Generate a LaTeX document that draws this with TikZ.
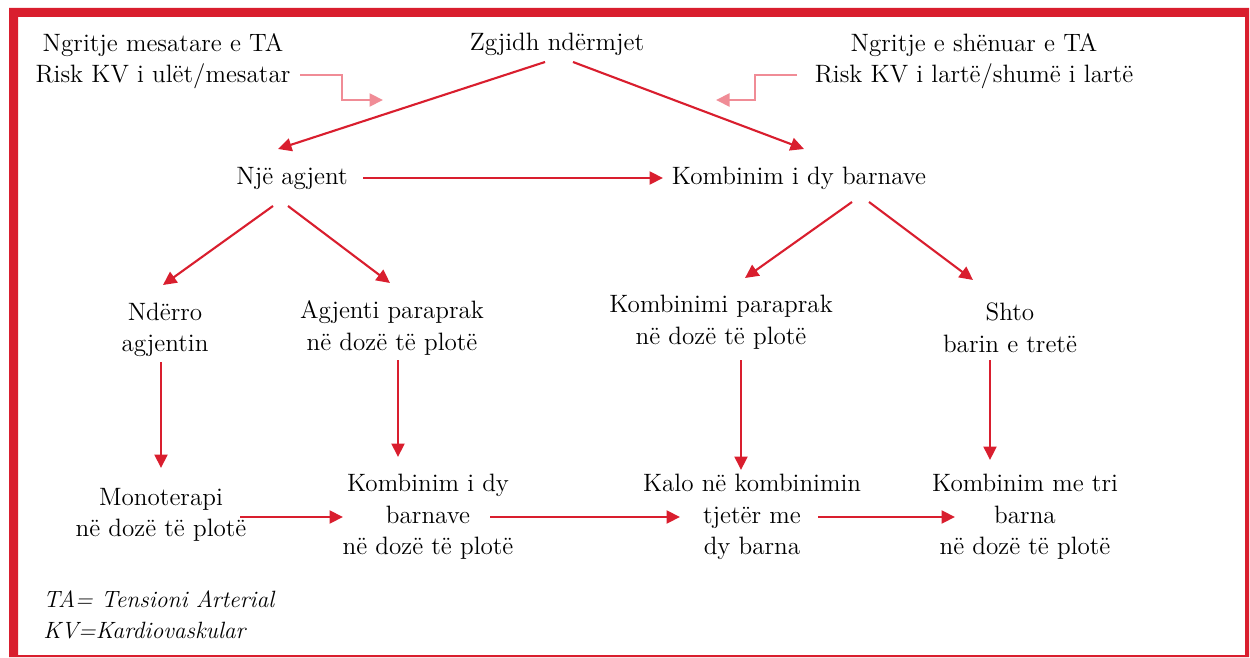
\documentclass[tikz,border=0pt]{standalone}
\usepackage{fontspec}
\usetikzlibrary{arrows.meta,calc}
\definecolor{mainRed}{RGB}{217,30,46}
\definecolor{hintRed}{RGB}{240,140,150}
\begin{document}
\begin{tikzpicture}[x=0.02cm, y=-0.02cm,
    flowTxtS/.style={align=center,inner sep=0pt,font=\fontsize{14.3}{18}\selectfont},
    flowArrS/.style={-{Triangle[length=0.27cm,width=0.26cm]},mainRed,line width=1.2pt},
    hintArrS/.style={-{Triangle[length=0.27cm,width=0.26cm]},hintRed,line width=1.2pt},
]
\useasboundingbox (0,0) rectangle (1250,658);
% Frame
\fill[mainRed, even odd rule] (9,8) rectangle (1249,657) (18,17) rectangle (1245,655);
% Top row
\node[flowTxtS] (zgj) at (557,44) {Zgjidh ndërmjet};
\node[flowTxtS] (lowR) at (163,61) {Ngritje mesatare e TA\\Risk KV i ulët/mesatar};
\node[flowTxtS] (highR) at (974,61) {Ngritje e shënuar e TA\\Risk KV i lartë/shumë i lartë};
\coordinate (lowTip) at (383,100);
\coordinate (highTip) at (716,100);
\draw[hintArrS] ($(lowR)+(137,14)$) -| (342,100) -- (lowTip);
\draw[hintArrS] ($(highR)+(-177,14)$) -| (755,100) -- (highTip);
% Second row
\node[flowTxtS] (nje) at (292,178) {Një agjent};
\node[flowTxtS] (komb) at (799,178) {Kombinim i dy barnave};
\draw[flowArrS] ($(zgj)+(-12,18)$) -- ($(nje)+(-14,-29)$);
\draw[flowArrS] ($(zgj)+(16,18)$) -- ($(komb)+(5,-29)$);
\draw[flowArrS] ($(nje)+(71,0)$) -- ($(komb)+(-136,0)$);
% Third row
\node[flowTxtS] (nderro) at (165,330) {Ndërro\\agjentin};
\node[flowTxtS] (agjPar) at (392,328) {Agjenti paraprak\\në dozë të plotë};
\node[flowTxtS] (kombPar) at (721,322) {Kombinimi paraprak\\në dozë të plotë};
\node[flowTxtS] (shto) at (1010,328) {Shto\\barin e tretë};
\draw[flowArrS] ($(nje)+(-19,28)$) -- ($(nderro)+(-2,-45)$);
\draw[flowArrS] ($(nje)+(-4,28)$) -- ($(agjPar)+(-2,-45)$);
\draw[flowArrS] ($(komb)+(53,24)$) -- ($(kombPar)+(24,-44)$);
\draw[flowArrS] ($(komb)+(70,24)$) -- ($(shto)+(-37,-48)$);
% Bottom row
\node[flowTxtS] (mono) at (161,515) {Monoterapi\\në dozë të plotë};
\node[flowTxtS] (kombDy) at (428,517) {Kombinim i dy\\barnave\\në dozë të plotë};
\node[flowTxtS] (kalo) at (752,517) {Kalo në kombinimin\\tjetër me\\dy barna};
\node[flowTxtS] (kombTri) at (1025,517) {Kombinim me tri\\barna\\në dozë të plotë};
\draw[flowArrS] ($(nderro)+(-4,32)$) -- ($(mono)+(0,-47)$);
\draw[flowArrS] ($(agjPar)+(6,32)$) -- ($(kombDy)+(-30,-60)$);
\draw[flowArrS] ($(kombPar)+(20,38)$) -- ($(kalo)+(-11,-47)$);
\draw[flowArrS] ($(shto)+(-20,32)$) -- ($(kombTri)+(-35,-57)$);
\draw[flowArrS] ($(mono)+(79,2)$) -- ($(kombDy)+(-85,0)$);
\draw[flowArrS] ($(kombDy)+(62,0)$) -- ($(kalo)+(-72,0)$);
\draw[flowArrS] ($(kalo)+(66,0)$) -- ($(kombTri)+(-70,0)$);
% Legend
\node[flowTxtS, anchor=west, align=left, font=\fontsize{13.4}{18}\selectfont\itshape] (legend) at (43,615) {TA= Tensioni Arterial\\KV=Kardiovaskular};
\end{tikzpicture}
\end{document}
